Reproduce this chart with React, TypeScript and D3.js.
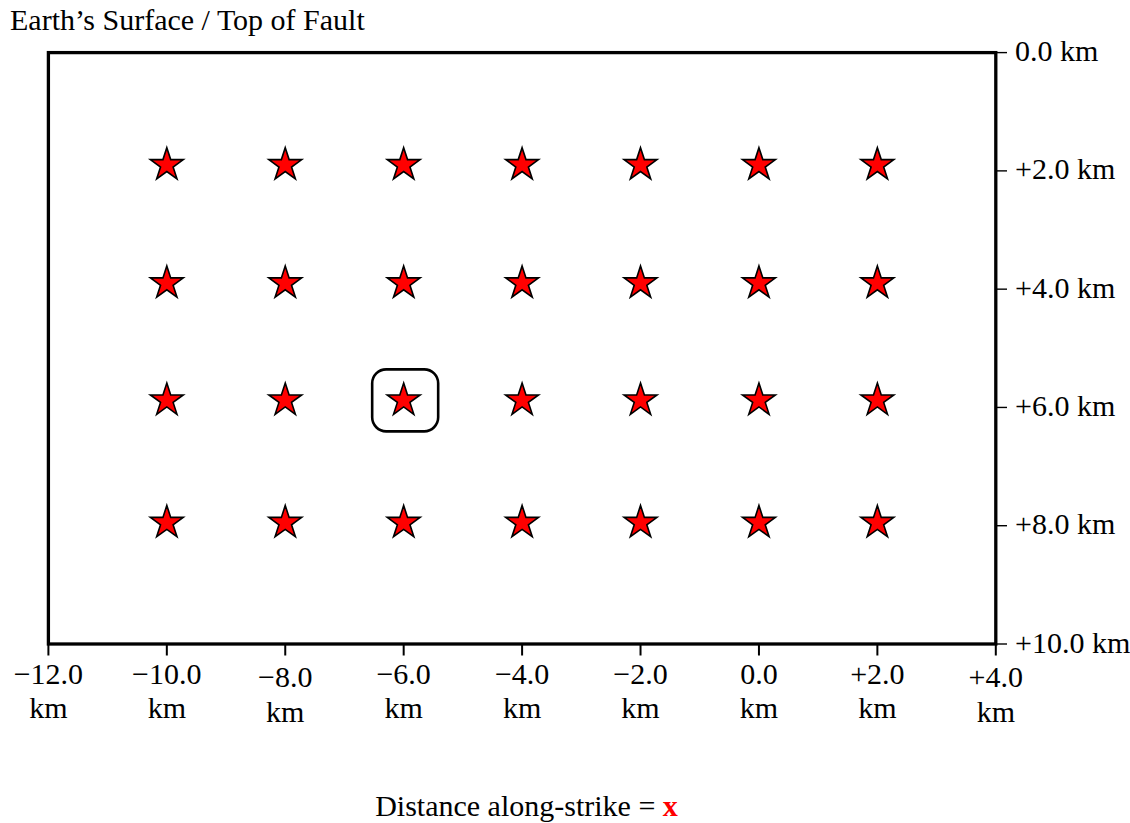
import React from 'react';
import * as d3 from 'd3';

// Along-strike positions (km) and depths (km) of the hypocentre grid
const alongStrike = [-10, -8, -6, -4, -2, 0, 2];
const depths = [1.9, 3.9, 5.88, 7.95];
// Highlighted hypocentre
const highlightX = -6;
const highlightDepth = 5.88;

const xTicks = [-12, -10, -8, -6, -4, -2, 0, 2, 4];
const yTicks = [0, 2, 4, 6, 8, 10];

const W = 1130;
const H = 823;
const FONT = '"Liberation Serif", "Times New Roman", serif';
const FS = 30;

const fmt = (v: number) =>
  v === 0 ? '0.0' : (v > 0 ? '+' : '\u2212') + Math.abs(v).toFixed(1);

export default function App() {
  const x = d3.scaleLinear().domain([-12, 4]).range([48.4, 995.8]);
  const y = d3.scaleLinear().domain([0, 10]).range([52.6, 644]);

  const R = 17.3;
  const starPts: [number, number][] = d3.range(10).map((i) => [
    (i * Math.PI) / 5,
    i % 2 === 0 ? R : R * 0.381966,
  ]);
  const starPath = d3.lineRadial().curve(d3.curveLinearClosed)(starPts) as string;

  const grid: { xv: number; d: number }[] = [];
  depths.forEach((d) => alongStrike.forEach((xv) => grid.push({ xv, d })));

  const [x0, x1] = x.range();
  const [y0, y1] = y.range();

  // small vertical nudges for a couple of x tick labels
  const labelNudge = (v: number) => (v === -8 || v === 4 ? 3.5 : 0);

  return (
    <svg
      width={W}
      height={H}
      style={{ position: 'absolute', left: 0, top: 0, display: 'block', background: '#fff' }}
      fontFamily={FONT}
    >
      <rect width={W} height={H} fill="#fff" />
      <text x={10} y={30} fontSize={FS} fill="#000">
        Earth’s Surface / Top of Fault
      </text>

      {/* x ticks */}
      {xTicks.map((v) => (
        <g key={'xt' + v}>
          <line x1={x(v)} x2={x(v)} y1={y1} y2={655.5} stroke="#000" strokeWidth={2} />
          <text x={x(v)} y={683.5 + labelNudge(v)} fontSize={FS} textAnchor="middle">
            {fmt(v)}
          </text>
          <text x={x(v)} y={718 + labelNudge(v)} fontSize={FS} textAnchor="middle">
            km
          </text>
        </g>
      ))}

      {/* y ticks on the right */}
      {yTicks.map((v) => (
        <g key={'yt' + v}>
          <line x1={x1} x2={1007} y1={y(v)} y2={y(v)} stroke="#000" strokeWidth={1.4} />
          <text x={1015} y={y(v) + 8.5} fontSize={FS}>
            {fmt(v) + ' km'}
          </text>
        </g>
      ))}

      {/* frame */}
      <rect
        x={x0}
        y={y0}
        width={x1 - x0}
        height={y1 - y0}
        fill="none"
        stroke="#000"
        strokeWidth={3.3}
      />

      {/* hypocentres */}
      {grid.map((p, i) => (
        <path
          key={'s' + i}
          d={starPath}
          transform={`translate(${x(p.xv)},${y(p.d)})`}
          fill="#ff0000"
          stroke="#000"
          strokeWidth={1.6}
          strokeLinejoin="miter"
        />
      ))}

      {/* highlighted hypocentre */}
      <rect
        x={x(highlightX) + 1.5 - 33}
        y={y(highlightDepth) - 31}
        width={66}
        height={62}
        rx={14}
        ry={14}
        fill="none"
        stroke="#000"
        strokeWidth={2.6}
      />

      <text x={526.5} y={815.5} fontSize={FS} textAnchor="middle">
        Distance along-strike ={' '}
        <tspan fill="#ff0000" fontWeight="bold">
          x
        </tspan>
      </text>
    </svg>
  );
}
